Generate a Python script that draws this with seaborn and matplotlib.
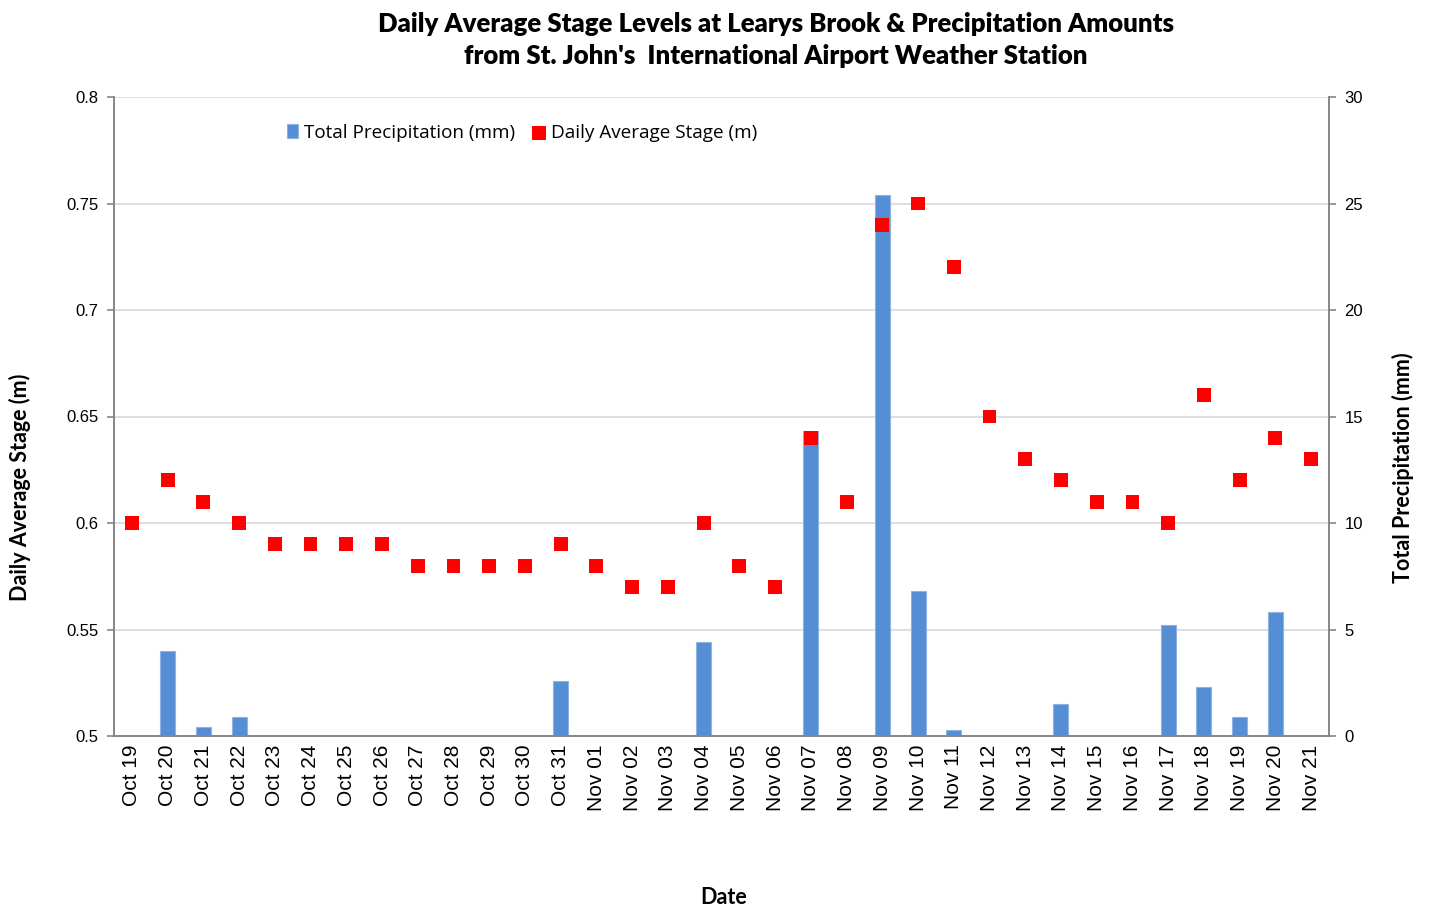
import matplotlib
matplotlib.use("Agg")
import matplotlib.pyplot as plt
import seaborn as sns
import pandas as pd

# Données
dates = ["Oct 19", "Oct 20", "Oct 21", "Oct 22", "Oct 23", "Oct 24", "Oct 25",
         "Oct 26", "Oct 27", "Oct 28", "Oct 29", "Oct 30", "Oct 31", "Nov 01",
         "Nov 02", "Nov 03", "Nov 04", "Nov 05", "Nov 06", "Nov 07", "Nov 08",
         "Nov 09", "Nov 10", "Nov 11", "Nov 12", "Nov 13", "Nov 14", "Nov 15",
         "Nov 16", "Nov 17", "Nov 18", "Nov 19", "Nov 20", "Nov 21"]
stage_m = [0.60, 0.62, 0.61, 0.60, 0.59, 0.59, 0.59, 0.59, 0.58, 0.58, 0.58,
           0.58, 0.59, 0.58, 0.57, 0.57, 0.60, 0.58, 0.57, 0.64, 0.61, 0.74,
           0.75, 0.72, 0.65, 0.63, 0.62, 0.61, 0.61, 0.60, 0.66, 0.62, 0.64,
           0.63]
precip_mm = [0, 4.0, 0.4, 0.9, 0, 0, 0, 0, 0, 0, 0, 0, 2.6, 0, 0, 0, 4.4, 0,
             0, 14.3, 0, 25.4, 6.8, 0.3, 0, 0, 1.5, 0, 0, 5.2, 2.3, 0.9, 5.8, 0]

df = pd.DataFrame({"date": dates, "stage": stage_m, "precip": precip_mm})

sns.set_theme(style="white")
plt.rcParams['font.family'] = ['Liberation Sans', 'DejaVu Sans']
plt.rcParams['text.color'] = 'black'
plt.rcParams['xtick.labelcolor'] = 'black'
plt.rcParams['ytick.labelcolor'] = 'black'
titre_font = ["Lato", "DejaVu Sans"]

W, H = 1429, 909
fig = plt.figure(figsize=(W / 100, H / 100), dpi=100)
ax = fig.add_axes([114 / W, 1 - 736 / H, (1329 - 114) / W, (736 - 97) / H])
ax2 = ax.twinx()

# barres précipitations (axe de droite, dessous)
sns.barplot(data=df, x="date", y="precip", ax=ax2, color="#558ed5",
            saturation=1, width=0.42, edgecolor="#8db3e2", linewidth=0.8,
            label="Total Precipitation (mm)", zorder=2)
ax2.set_ylim(0, 30)
ax2.set_yticks(range(0, 31, 5))
ax2.yaxis.grid(True, color="#d9d9d9", linewidth=1.2, zorder=0)
ax2.set_axisbelow(True)
ax2.set_ylabel("")
ax2.set_xlabel("")

# niveaux (axe de gauche, dessus)
ax.set_zorder(ax2.get_zorder() + 1)
ax.patch.set_visible(False)
sns.scatterplot(data=df, x="date", y="stage", ax=ax, marker="s", s=100,
                color="#ff0000", edgecolor="none", label="Daily Average Stage (m)",
                zorder=3)
ax.set_ylim(0.5, 0.8)
ax.set_yticks([0.5, 0.55, 0.6, 0.65, 0.7, 0.75, 0.8])
ax.set_yticklabels(["0.5", "0.55", "0.6", "0.65", "0.7", "0.75", "0.8"])
ax.set_xlim(-0.5, len(dates) - 0.5)
ax.set_ylabel("")
ax.set_xlabel("")

for a in (ax, ax2):
    for side in ("left", "right", "bottom"):
        a.spines[side].set_color("#868686")
        a.spines[side].set_linewidth(1.2)
    a.spines["top"].set_visible(False)
    a.tick_params(axis="y", which="major", length=5, width=1.2, color="#868686",
                  labelsize=12, pad=6, direction="out", labelcolor="black")
ax.tick_params(axis="x", length=0, labelsize=15, pad=6, rotation=90,
               labelcolor="black")
ax2.tick_params(axis="x", length=0)
ax.tick_params(axis="y", left=True, right=False)
ax2.tick_params(axis="y", right=True, left=False)

# titres des axes
fig.text(20 / W, 1 - 487 / H, "Daily Average Stage (m)", rotation=90,
         ha="center", va="center", fontsize=15.5, fontweight="bold", family=titre_font)
fig.text(1403 / W, 1 - 468 / H, "Total Precipitation (mm)", rotation=90,
         ha="center", va="center", fontsize=15.5, fontweight="bold", family=titre_font)
fig.text(724 / W, 1 - 898 / H, "Date", ha="center", va="center",
         fontsize=15.5, fontweight="bold", family=titre_font)

# légende commune
h1, l1 = ax2.get_legend_handles_labels()
h2, l2 = ax.get_legend_handles_labels()
if ax2.get_legend():
    ax2.get_legend().remove()
leg = ax.legend(h1 + h2, l1 + l2, loc="upper left", bbox_to_anchor=(0.128, 0.985),
                ncol=2, frameon=False, handlelength=0.6, markerscale=1.0,
                handletextpad=0.3, columnspacing=1.0,
                prop={"family": ["Open Sans", "DejaVu Sans"], "size": 13.6})

fig.text(776 / W, 1 - 40 / H,
         "Daily Average Stage Levels at Learys Brook & Precipitation Amounts\n"
         "from St. John's  International Airport Weather Station",
         ha="center", va="center", fontsize=18.5, fontweight="heavy",
         family=titre_font, linespacing=1.45, color="black")

fig.savefig("out.png", dpi=100)
